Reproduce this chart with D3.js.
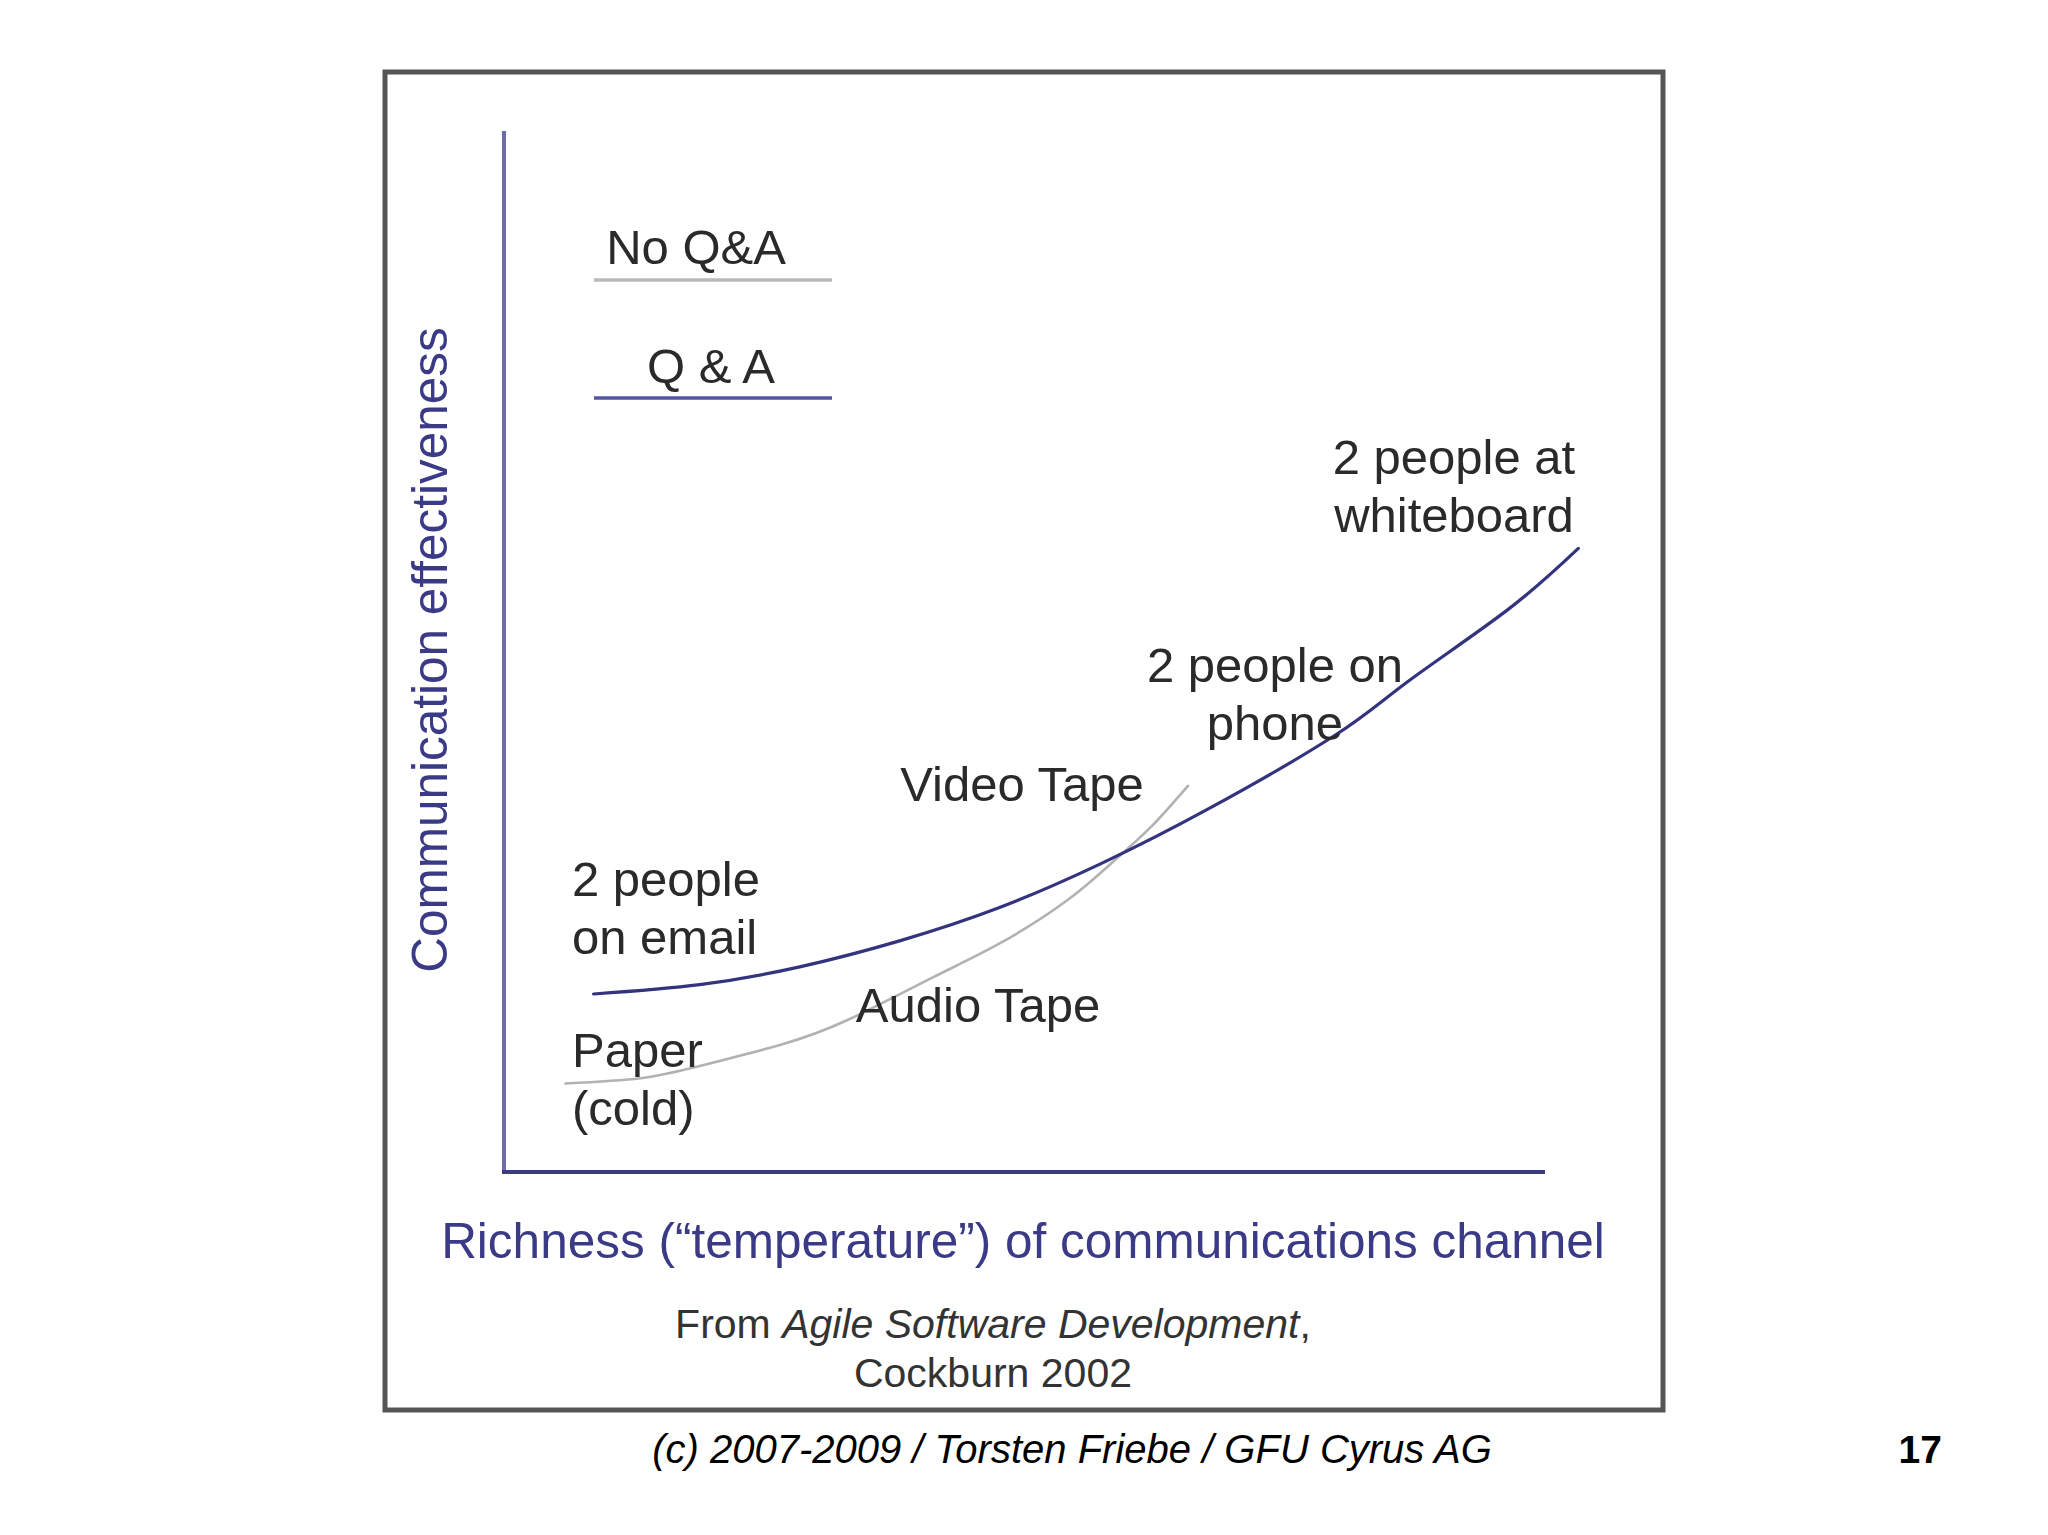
<!DOCTYPE html>
<html>
<head>
<meta charset="utf-8">
<script src="https://cdn.jsdelivr.net/npm/d3@7"></script>
<style>
  html, body { margin: 0; padding: 0; background: #ffffff; }
  svg text { font-family: "Liberation Sans", Arial, sans-serif; }
</style>
</head>
<body>
<svg id="chart" width="2048" height="1535"></svg>
<script>
// ---- data (richness 0..100, effectiveness 0..100) ----
const qaSeriesName = "Q & A";
const noQaSeriesName = "No Q&A";

const qaRichness      = [8.6, 18.8, 28.4, 38.0, 47.6, 57.3, 67.7, 79.9, 86.8, 96.4, 103.2];
const qaEffectiveness = [17.1, 18.0, 19.7, 22.2, 25.4, 29.6, 34.9, 42.0, 47.1, 54.0, 59.9];

const noQaRichness      = [5.9, 13.1, 18.9, 26.5, 33.0, 41.2, 47.7, 54.1, 58.5, 62.1, 65.7];
const noQaEffectiveness = [8.5, 9.0, 10.2, 12.2, 14.6, 18.7, 22.0, 26.1, 29.8, 33.1, 37.1];

const channelLabels = [
  ["2 people at", "whiteboard"],
  ["2 people on", "phone"],
  ["Video Tape"],
  ["2 people", "on email"],
  ["Audio Tape"],
  ["Paper", "(cold)"]
];

const xTitle = "Richness (\u201Ctemperature\u201D) of communications channel";
const yTitle = "Communication effectiveness";
const sourceLine1 = ["From ", "Agile Software Development", ","];
const sourceLine2 = "Cockburn 2002";
const footer = "(c) 2007-2009 / Torsten Friebe / GFU Cyrus AG";
const pageNumber = "17";

// ---- layout ----
const svg = d3.select("#chart");
const x = d3.scaleLinear().domain([0, 100]).range([504, 1545]);
const y = d3.scaleLinear().domain([0, 100]).range([1172, 131]);

const textColor = "#2a2a2a";
const navy = "#3a3a86";

// frame
svg.append("rect")
  .attr("x", 385).attr("y", 72).attr("width", 1278).attr("height", 1338)
  .attr("fill", "#ffffff").attr("stroke", "#555555").attr("stroke-width", 5);

// axes (no ticks)
svg.append("line")
  .attr("x1", x(0)).attr("x2", x(0)).attr("y1", y(100)).attr("y2", y(0))
  .attr("stroke", "#6c6ca6").attr("stroke-width", 4);
svg.append("line")
  .attr("x1", x(0) - 2).attr("x2", x(100)).attr("y1", y(0)).attr("y2", y(0))
  .attr("stroke", "#3c3c7c").attr("stroke-width", 4);

// curves
const line = d3.line().x(d => x(d[0])).y(d => y(d[1])).curve(d3.curveNatural);
const noQa = noQaRichness.map((v, i) => [v, noQaEffectiveness[i]]);
const qa = qaRichness.map((v, i) => [v, qaEffectiveness[i]]);

svg.append("path").datum(noQa).attr("d", line)
  .attr("fill", "none").attr("stroke", "#b2b2b2").attr("stroke-width", 2.6)
  .attr("stroke-linecap", "round");
svg.append("path").datum(qa).attr("d", line)
  .attr("fill", "none").attr("stroke", "#34347e").attr("stroke-width", 3.2)
  .attr("stroke-linecap", "round");

// legend
const legend = [
  { name: noQaSeriesName, color: "#b8b8b8", ty: 264, ly: 280, tx: 696 },
  { name: qaSeriesName, color: "#5656a0", ty: 383, ly: 398, tx: 711 }
];
legend.forEach(l => {
  svg.append("text").attr("x", l.tx).attr("y", l.ty).attr("text-anchor", "middle")
    .attr("font-size", 49).attr("fill", textColor).text(l.name);
  svg.append("line").attr("x1", 594).attr("x2", 832).attr("y1", l.ly).attr("y2", l.ly)
    .attr("stroke", l.color).attr("stroke-width", 3.5);
});

// channel annotations (pixel anchors for layout)
const labelPlacement = [
  { x: 1454, y: 474, anchor: "middle" },
  { x: 1275, y: 682, anchor: "middle" },
  { x: 1022, y: 801, anchor: "middle" },
  { x: 572,  y: 896, anchor: "start" },
  { x: 978,  y: 1022, anchor: "middle" },
  { x: 572,  y: 1067, anchor: "start" }
];
channelLabels.forEach((lines, i) => {
  const p = labelPlacement[i];
  const t = svg.append("text").attr("text-anchor", p.anchor)
    .attr("font-size", 49).attr("fill", textColor);
  lines.forEach((s, j) => {
    t.append("tspan").attr("x", p.x).attr("y", p.y + j * 58).text(s);
  });
});

// axis titles
svg.append("text")
  .attr("transform", "translate(447,650) rotate(-90)")
  .attr("text-anchor", "middle").attr("font-size", 49.5).attr("fill", navy)
  .text(yTitle);
svg.append("text")
  .attr("x", 1023).attr("y", 1258).attr("text-anchor", "middle")
  .attr("font-size", 49.5).attr("fill", navy).text(xTitle);

// source
const src = svg.append("text").attr("x", 993).attr("y", 1338).attr("text-anchor", "middle")
  .attr("font-size", 41).attr("fill", "#333333");
src.append("tspan").text(sourceLine1[0]);
src.append("tspan").attr("font-style", "italic").text(sourceLine1[1]);
src.append("tspan").text(sourceLine1[2]);
svg.append("text").attr("x", 993).attr("y", 1387).attr("text-anchor", "middle")
  .attr("font-size", 41).attr("fill", "#333333").text(sourceLine2);

// footer
svg.append("text").attr("x", 1072).attr("y", 1463).attr("text-anchor", "middle")
  .attr("font-size", 40).attr("font-style", "italic").attr("fill", "#000").text(footer);
svg.append("text").attr("x", 1942).attr("y", 1463).attr("text-anchor", "end")
  .attr("font-size", 39).attr("font-weight", "bold").attr("fill", "#000").text(pageNumber);
</script>
</body>
</html>
